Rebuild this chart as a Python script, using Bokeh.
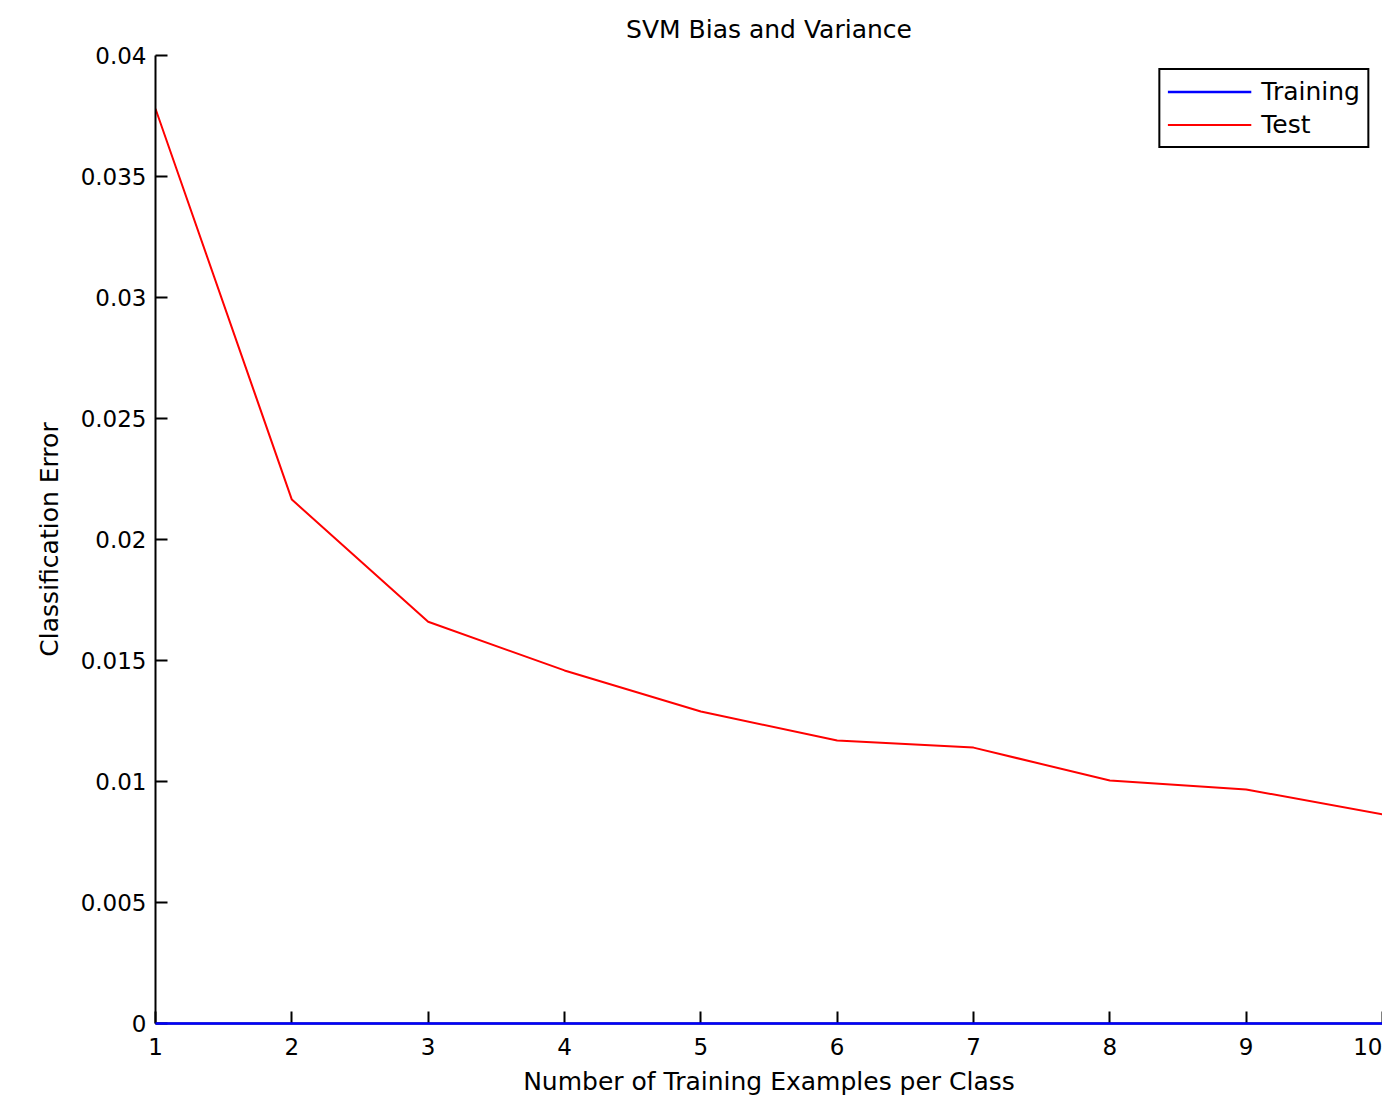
from bokeh.plotting import figure
from bokeh.models import FixedTicker, Range1d, Legend, LegendItem
from bokeh.embed import file_html
from bokeh.resources import INLINE

examples = [1, 2, 3, 4, 5, 6, 7, 8, 9, 10]
training_error = [0, 0, 0, 0, 0, 0, 0, 0, 0, 0]
test_error = [0.0378, 0.02165, 0.0166, 0.01459, 0.01289, 0.01169, 0.0114, 0.01004, 0.00967, 0.00864]
y_ticks = [0, 0.005, 0.01, 0.015, 0.02, 0.025, 0.03, 0.035, 0.04]
y_tick_labels = ["0", "0.005", "0.01", "0.015", "0.02", "0.025", "0.03", "0.035", "0.04"]
title_text = "SVM Bias and Variance"

FONT = "DejaVu Sans"
FS_TICK = "23px"
FS_TEXT = "25px"

x_min, x_max = examples[0], examples[-1]
y_min, y_max = y_ticks[0], y_ticks[-1]

p = figure(width=1382, height=1098, output_backend="svg", toolbar_location=None,
           x_range=Range1d(x_min, x_max), y_range=Range1d(y_min, y_max),
           min_border_left=155, min_border_right=0, min_border_top=55, min_border_bottom=75)
p.outline_line_color = None
p.grid.grid_line_color = None

p.title.text = title_text
p.title.align = "center"
p.title.vertical_align = "top"
p.title.text_font = FONT
p.title.text_font_size = FS_TEXT
p.title.text_font_style = "normal"
p.title.text_color = "black"
p.title.standoff = 20

for ax in (p.xaxis[0], p.yaxis[0]):
    ax.axis_line_color = "black"
    ax.axis_line_width = 2
    ax.major_tick_line_color = "black"
    ax.major_tick_line_width = 2
    ax.major_tick_in = 12
    ax.major_tick_out = 0
    ax.minor_tick_line_color = None
    ax.major_label_text_font = FONT
    ax.major_label_text_font_size = FS_TICK
    ax.major_label_text_color = "black"
    ax.axis_label_text_font = FONT
    ax.axis_label_text_font_size = FS_TEXT
    ax.axis_label_text_font_style = "normal"
    ax.axis_label_text_color = "black"

p.xaxis.ticker = FixedTicker(ticks=examples)
p.xaxis.major_label_standoff = 14
p.xaxis.axis_label = "Number of Training Examples per Class"
p.xaxis.axis_label_standoff = 9

p.yaxis.ticker = FixedTicker(ticks=y_ticks)
p.yaxis.major_label_overrides = {t: s for t, s in zip(y_ticks, y_tick_labels)}
p.yaxis.major_label_standoff = 9
p.yaxis.axis_label = "Classification Error"
p.yaxis.axis_label_standoff = 14

r_train = p.line(examples, training_error, line_color="#0000ff", line_width=2.5, level="overlay")
r_test = p.line(examples, test_error, line_color="#ff0000", line_width=2)

legend = Legend(items=[LegendItem(label="Training", renderers=[r_train]),
                       LegendItem(label="Test", renderers=[r_test])],
                location="top_right")
legend.label_text_font = FONT
legend.label_text_font_size = FS_TEXT
legend.label_text_color = "black"
legend.glyph_width = 84
legend.glyph_height = 25
legend.label_height = 25
legend.label_standoff = 10
legend.padding = 7
legend.spacing = 4
legend.margin = 13
legend.border_line_color = "black"
legend.border_line_alpha = 1
legend.border_line_width = 2
legend.background_fill_alpha = 1
p.add_layout(legend)

open("out.html", "w").write(file_html(p, INLINE))
